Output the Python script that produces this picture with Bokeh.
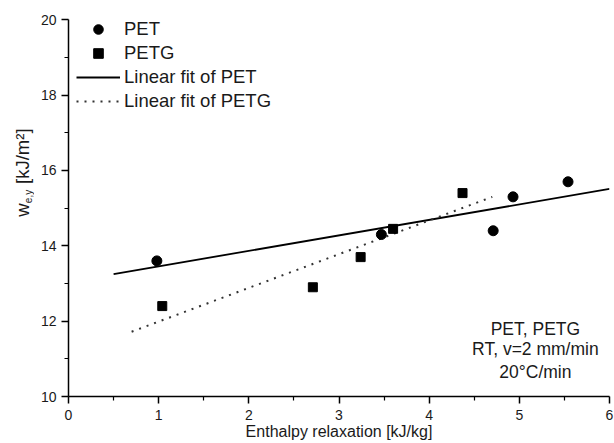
import math
from bokeh.plotting import figure
from bokeh.layouts import row
from bokeh.models import Label, Legend, LegendItem, Range1d, FixedTicker
from bokeh.embed import file_html
from bokeh.resources import INLINE

# ---- data ----
pet_x = [0.98, 3.47, 4.71, 4.93, 5.54]
pet_y = [13.6, 14.3, 14.4, 15.3, 15.7]
petg_x = [1.04, 2.71, 3.24, 3.60, 4.37]
petg_y = [12.4, 12.9, 13.7, 14.45, 15.4]
fit_pet_x = [0.5, 6.0]
fit_pet_y = [13.25, 15.51]
fit_petg_x = [0.7, 4.7]
fit_petg_y = [11.72, 15.30]
x_ticks = [0, 1, 2, 3, 4, 5, 6]
x_minor = [0.5, 1.5, 2.5, 3.5, 4.5, 5.5]
y_ticks = [10, 12, 14, 16, 18, 20]
y_minor = [11, 13, 15, 17, 19]
notes = ["PET, PETG", "RT, v=2 mm/min", "20°C/min"]

FONT = "Liberation Sans"
TXT = "#1a1a1a"
Y0, Y1 = 10, 20.3   # plotted y span (axis drawn 10..20)

# ---- main plot ----
p = figure(width=580, height=443, output_backend="svg", toolbar_location=None,
           x_range=Range1d(0, 6), y_range=Range1d(Y0, Y1),
           min_border_left=34, min_border_right=5, min_border_top=8, min_border_bottom=47)
p.outline_line_color = None
p.xgrid.visible = False
p.ygrid.visible = False
p.background_fill_color = "white"

for ax in (p.xaxis[0], p.yaxis[0]):
    ax.axis_line_color = "black"
    ax.axis_line_width = 1.5
    ax.major_tick_line_color = "black"
    ax.minor_tick_line_color = "black"
    ax.major_tick_line_width = 1.5
    ax.minor_tick_line_width = 1.2
    ax.major_tick_in = 0
    ax.major_tick_out = 7
    ax.minor_tick_in = 0
    ax.minor_tick_out = 4
    ax.major_label_text_font = FONT
    ax.major_label_text_font_size = "14px"
    ax.major_label_text_color = TXT

p.xaxis.ticker = FixedTicker(ticks=x_ticks, minor_ticks=x_minor)
p.yaxis.ticker = FixedTicker(ticks=y_ticks, minor_ticks=y_minor)
p.xaxis.bounds = (0, 6)
p.yaxis.bounds = (10, 20)
p.xaxis.major_label_standoff = 6
p.yaxis.major_label_standoff = 5
p.xaxis.axis_label = "Enthalpy relaxation [kJ/kg]"
p.xaxis.axis_label_text_font = FONT
p.xaxis.axis_label_text_font_size = "16px"
p.xaxis.axis_label_text_font_style = "normal"
p.xaxis.axis_label_text_color = TXT
p.xaxis.axis_label_standoff = 0

# fits
l1 = p.line(fit_pet_x, fit_pet_y, line_color="black", line_width=1.8)
l2 = p.line(fit_petg_x, fit_petg_y, line_color="#333333", line_width=2, line_dash="2 6")
# points
c1 = p.scatter(pet_x, pet_y, marker="circle", size=10, fill_color="black", line_color="black")
c2 = p.scatter(petg_x, petg_y, marker="square", size=9, fill_color="black", line_color="black")

legend = Legend(items=[
    LegendItem(label="PET", renderers=[c1]),
    LegendItem(label="PETG", renderers=[c2]),
    LegendItem(label="Linear fit of PET", renderers=[l1]),
    LegendItem(label="Linear fit of PETG", renderers=[l2]),
], location=(8, 283))
legend.border_line_color = None
legend.background_fill_alpha = 0
legend.padding = 0
legend.margin = 0
legend.spacing = 0
legend.glyph_width = 44
legend.glyph_height = 24
legend.label_height = 24
legend.label_standoff = 4
legend.label_text_font = FONT
legend.label_text_font_size = "18.5px"
legend.label_text_color = TXT
p.add_layout(legend)

# notes
for txt, yy in zip(notes, [11.78, 11.25, 10.65]):
    p.add_layout(Label(x=5.178, y=yy, text=txt, text_font=FONT, text_font_size="17.5px",
                       text_color=TXT, text_align="center", text_baseline="middle"))

# ---- narrow strip holding the y-axis title (with sub/superscript) ----
s = figure(width=34, height=443, output_backend="svg", toolbar_location=None,
           x_range=Range1d(0, 34), y_range=Range1d(Y0, Y1),
           x_axis_location=None, y_axis_location=None,
           min_border_left=0, min_border_right=0, min_border_top=8, min_border_bottom=47)
s.outline_line_color = None
s.xgrid.visible = False
s.ygrid.visible = False
ylab = dict(angle=math.pi / 2, text_font=FONT, text_color=TXT, text_align="center",
            text_baseline="middle")
s.add_layout(Label(x=22, y=14.95, text="w", text_font_size="18.5px", **ylab))
s.add_layout(Label(x=28, y=15.31, text="e,y", text_font_size="10px", **ylab))
s.add_layout(Label(x=22, y=16.38, text="[kJ/m²]", text_font_size="18.5px", **ylab))

layout = row(s, p, spacing=0)
open("out.html", "w").write(file_html(layout, INLINE))
